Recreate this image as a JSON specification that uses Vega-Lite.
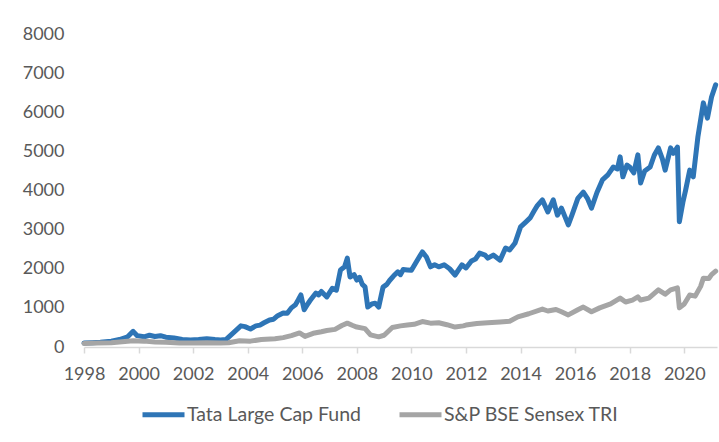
{
  "$schema": "https://vega.github.io/schema/vega-lite/v6.json",
  "autosize": "none",
  "padding": {"left": 84, "top": 34, "right": 2, "bottom": 95},
  "width": 633,
  "height": 313,
  "background": "white",
  "config": {
    "view": {"stroke": null},
    "font": "Lato"
  },
  "datasets": {
    "fund": [
      {"year": 1998.0, "value": 100}, {"year": 1998.3, "value": 110}, {"year": 1998.6, "value": 120},
      {"year": 1999.0, "value": 150}, {"year": 1999.3, "value": 190}, {"year": 1999.6, "value": 260},
      {"year": 1999.8, "value": 400}, {"year": 1999.95, "value": 290}, {"year": 2000.2, "value": 260},
      {"year": 2000.4, "value": 300}, {"year": 2000.6, "value": 270}, {"year": 2000.8, "value": 290},
      {"year": 2001.0, "value": 250}, {"year": 2001.3, "value": 230}, {"year": 2001.6, "value": 190},
      {"year": 2001.9, "value": 180}, {"year": 2002.2, "value": 190}, {"year": 2002.5, "value": 210},
      {"year": 2002.8, "value": 190}, {"year": 2003.0, "value": 180}, {"year": 2003.2, "value": 190},
      {"year": 2003.5, "value": 380}, {"year": 2003.75, "value": 540}, {"year": 2003.9, "value": 520},
      {"year": 2004.1, "value": 460}, {"year": 2004.3, "value": 540}, {"year": 2004.45, "value": 560},
      {"year": 2004.6, "value": 620}, {"year": 2004.8, "value": 690}, {"year": 2004.95, "value": 710},
      {"year": 2005.1, "value": 800}, {"year": 2005.3, "value": 870}, {"year": 2005.45, "value": 860},
      {"year": 2005.6, "value": 1000}, {"year": 2005.75, "value": 1080}, {"year": 2005.85, "value": 1200}, {"year": 2005.95, "value": 1330},
      {"year": 2006.07, "value": 950}, {"year": 2006.2, "value": 1100}, {"year": 2006.3, "value": 1200}, {"year": 2006.5, "value": 1380},
      {"year": 2006.6, "value": 1330}, {"year": 2006.7, "value": 1420}, {"year": 2006.9, "value": 1280}, {"year": 2007.1, "value": 1500},
      {"year": 2007.25, "value": 1450}, {"year": 2007.4, "value": 1970}, {"year": 2007.55, "value": 2050},
      {"year": 2007.65, "value": 2270}, {"year": 2007.75, "value": 1790}, {"year": 2007.9, "value": 1850},
      {"year": 2008.0, "value": 1710}, {"year": 2008.1, "value": 1780}, {"year": 2008.2, "value": 1600}, {"year": 2008.3, "value": 1535},
      {"year": 2008.4, "value": 1020}, {"year": 2008.55, "value": 1100}, {"year": 2008.67, "value": 1120},
      {"year": 2008.8, "value": 1020}, {"year": 2008.96, "value": 1530}, {"year": 2009.1, "value": 1600}, {"year": 2009.2, "value": 1700},
      {"year": 2009.35, "value": 1820}, {"year": 2009.5, "value": 1920}, {"year": 2009.6, "value": 1850}, {"year": 2009.7, "value": 1980}, {"year": 2009.85, "value": 1970},
      {"year": 2010.0, "value": 1960}, {"year": 2010.2, "value": 2200}, {"year": 2010.4, "value": 2430},
      {"year": 2010.55, "value": 2300}, {"year": 2010.7, "value": 2050}, {"year": 2010.85, "value": 2100},
      {"year": 2011.0, "value": 2050}, {"year": 2011.2, "value": 2100}, {"year": 2011.4, "value": 2000},
      {"year": 2011.6, "value": 1840}, {"year": 2011.85, "value": 2100}, {"year": 2012.0, "value": 2020},
      {"year": 2012.2, "value": 2200}, {"year": 2012.35, "value": 2250}, {"year": 2012.5, "value": 2400}, {"year": 2012.7, "value": 2350},
      {"year": 2012.8, "value": 2270}, {"year": 2013.0, "value": 2350}, {"year": 2013.25, "value": 2220},
      {"year": 2013.45, "value": 2530}, {"year": 2013.6, "value": 2480}, {"year": 2013.8, "value": 2660},
      {"year": 2014.0, "value": 3070}, {"year": 2014.2, "value": 3200}, {"year": 2014.35, "value": 3300},
      {"year": 2014.5, "value": 3480}, {"year": 2014.6, "value": 3600}, {"year": 2014.8, "value": 3760}, {"year": 2015.0, "value": 3450},
      {"year": 2015.2, "value": 3760}, {"year": 2015.35, "value": 3370}, {"year": 2015.5, "value": 3550},
      {"year": 2015.75, "value": 3120}, {"year": 2015.9, "value": 3400}, {"year": 2016.1, "value": 3800},
      {"year": 2016.3, "value": 3960}, {"year": 2016.45, "value": 3800}, {"year": 2016.6, "value": 3550},
      {"year": 2016.8, "value": 3950}, {"year": 2017.0, "value": 4270}, {"year": 2017.2, "value": 4400},
      {"year": 2017.4, "value": 4600}, {"year": 2017.55, "value": 4550}, {"year": 2017.65, "value": 4860},
      {"year": 2017.75, "value": 4350}, {"year": 2017.9, "value": 4650}, {"year": 2018.0, "value": 4600},
      {"year": 2018.15, "value": 4450}, {"year": 2018.3, "value": 4910}, {"year": 2018.4, "value": 4190},
      {"year": 2018.55, "value": 4500}, {"year": 2018.75, "value": 4600}, {"year": 2018.9, "value": 4900},
      {"year": 2019.05, "value": 5090}, {"year": 2019.2, "value": 4800}, {"year": 2019.3, "value": 4520},
      {"year": 2019.5, "value": 5090}, {"year": 2019.6, "value": 4950}, {"year": 2019.75, "value": 5110},
      {"year": 2019.82, "value": 3200}, {"year": 2019.95, "value": 3700}, {"year": 2020.05, "value": 4010},
      {"year": 2020.2, "value": 4520}, {"year": 2020.33, "value": 4350}, {"year": 2020.5, "value": 5370},
      {"year": 2020.7, "value": 6240}, {"year": 2020.85, "value": 5850}, {"year": 2021.0, "value": 6390},
      {"year": 2021.15, "value": 6700}
    ],
    "index": [
      {"year": 1998.0, "value": 90}, {"year": 1998.5, "value": 100}, {"year": 1999.0, "value": 110},
      {"year": 1999.5, "value": 140}, {"year": 1999.8, "value": 160}, {"year": 2000.2, "value": 150},
      {"year": 2000.6, "value": 130}, {"year": 2001.0, "value": 120}, {"year": 2001.5, "value": 100},
      {"year": 2002.0, "value": 100}, {"year": 2002.5, "value": 110}, {"year": 2003.0, "value": 100},
      {"year": 2003.3, "value": 110}, {"year": 2003.7, "value": 160}, {"year": 2004.1, "value": 150},
      {"year": 2004.5, "value": 190}, {"year": 2005.0, "value": 210}, {"year": 2005.3, "value": 240},
      {"year": 2005.6, "value": 290}, {"year": 2005.9, "value": 360}, {"year": 2006.1, "value": 270},
      {"year": 2006.4, "value": 350}, {"year": 2006.7, "value": 390}, {"year": 2006.9, "value": 420},
      {"year": 2007.2, "value": 450}, {"year": 2007.45, "value": 550}, {"year": 2007.65, "value": 610},
      {"year": 2007.85, "value": 550}, {"year": 2008.0, "value": 510}, {"year": 2008.3, "value": 470},
      {"year": 2008.5, "value": 310}, {"year": 2008.8, "value": 260}, {"year": 2009.0, "value": 300},
      {"year": 2009.3, "value": 500}, {"year": 2009.6, "value": 540}, {"year": 2009.85, "value": 560},
      {"year": 2010.1, "value": 580}, {"year": 2010.4, "value": 650}, {"year": 2010.7, "value": 610},
      {"year": 2011.0, "value": 620}, {"year": 2011.3, "value": 570}, {"year": 2011.6, "value": 510},
      {"year": 2011.9, "value": 540}, {"year": 2012.0, "value": 560}, {"year": 2012.4, "value": 600},
      {"year": 2012.8, "value": 620}, {"year": 2013.25, "value": 640}, {"year": 2013.6, "value": 660},
      {"year": 2013.9, "value": 770}, {"year": 2014.3, "value": 850}, {"year": 2014.8, "value": 970},
      {"year": 2015.0, "value": 920}, {"year": 2015.3, "value": 960}, {"year": 2015.5, "value": 900},
      {"year": 2015.75, "value": 820}, {"year": 2016.1, "value": 950}, {"year": 2016.3, "value": 1020},
      {"year": 2016.6, "value": 900}, {"year": 2016.9, "value": 1000}, {"year": 2017.3, "value": 1100},
      {"year": 2017.65, "value": 1250}, {"year": 2017.85, "value": 1150}, {"year": 2018.1, "value": 1200},
      {"year": 2018.3, "value": 1280}, {"year": 2018.4, "value": 1200}, {"year": 2018.7, "value": 1250},
      {"year": 2019.05, "value": 1460}, {"year": 2019.3, "value": 1350}, {"year": 2019.5, "value": 1460},
      {"year": 2019.75, "value": 1510}, {"year": 2019.82, "value": 1000}, {"year": 2020.0, "value": 1100},
      {"year": 2020.2, "value": 1330}, {"year": 2020.4, "value": 1300}, {"year": 2020.6, "value": 1550},
      {"year": 2020.7, "value": 1760}, {"year": 2020.9, "value": 1750}, {"year": 2021.0, "value": 1850},
      {"year": 2021.15, "value": 1940}
    ]
  },
  "encoding": {
    "x": {
      "field": "year", "type": "quantitative",
      "scale": {"domain": [1998, 2021.2], "nice": false, "zero": false},
      "axis": {
        "title": null, "values": [1998, 2000, 2002, 2004, 2006, 2008, 2010, 2012, 2014, 2016, 2018, 2020],
        "format": "d", "grid": false, "domainColor": "#d9d9d9", "domainWidth": 1.5,
        "tickColor": "#d9d9d9", "tickSize": 6, "tickWidth": 1.5,
        "labelFont": "Lato", "labelFontSize": 18, "labelColor": "#595959",
        "labelPadding": 12, "labelFlush": false
      }
    },
    "y": {
      "field": "value", "type": "quantitative",
      "scale": {"domain": [0, 8000], "nice": false},
      "axis": {
        "title": null, "values": [0, 1000, 2000, 3000, 4000, 5000, 6000, 7000, 8000],
        "format": "d",
        "grid": false, "domain": false, "ticks": false,
        "labelFont": "Lato", "labelFontSize": 18, "labelColor": "#595959",
        "labelPadding": 20
      }
    },
    "color": {
      "field": "series", "type": "nominal",
      "scale": {"domain": ["Tata Large Cap Fund", "S&P BSE Sensex TRI"], "range": ["#2E75B6", "#A5A5A5"]},
      "legend": {
        "title": null, "orient": "none", "direction": "horizontal",
        "legendX": 56, "legendY": 357,
        "symbolType": "stroke", "symbolSize": 1764, "symbolStrokeWidth": 5,
        "labelFont": "Lato", "labelFontSize": 19.5, "labelColor": "#595959",
        "labelOffset": 0, "columnPadding": 28, "labelLimit": 0
      }
    }
  },
  "layer": [
    {
      "data": {"name": "fund"},
      "transform": [{"calculate": "'Tata Large Cap Fund'", "as": "series"}],
      "mark": {"type": "line", "strokeWidth": 5, "strokeJoin": "round", "strokeCap": "round"}
    },
    {
      "data": {"name": "index"},
      "transform": [{"calculate": "'S&P BSE Sensex TRI'", "as": "series"}],
      "mark": {"type": "line", "strokeWidth": 5, "strokeJoin": "round", "strokeCap": "round"}
    }
  ]
}
